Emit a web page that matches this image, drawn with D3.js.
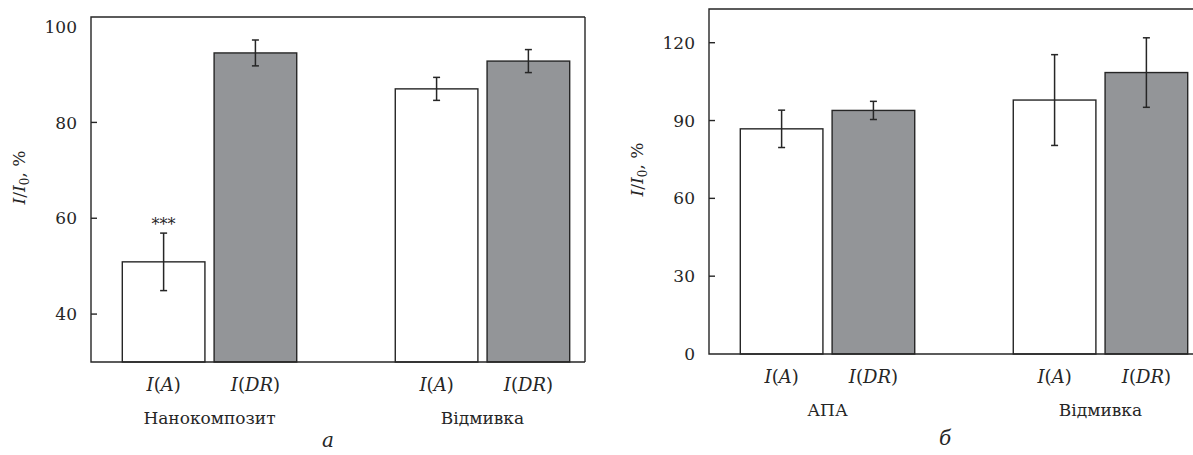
<!DOCTYPE html>
<html>
<head>
<meta charset="utf-8">
<script src="https://cdn.jsdelivr.net/npm/d3@7"></script>
<style>
	body { margin: 0; background: #fff; }
	svg { display: block; }
</style>
</head>
<body>
<svg id="chart" width="1193" height="455"></svg>
<script>
// series (two subplots)
const series = ["I(A)", "I(DR)"];

const groupsA = ["Нанокомпозит", "Відмивка"];
const meansA = [[50.9, 94.5], [87.0, 92.8]];
const errsA = [[6.0, 2.7], [2.4, 2.4]];
const ticksA = [40, 60, 80, 100];
const starsA = [["***", ""], ["", ""]];

const groupsB = ["АПА", "Відмивка"];
const meansB = [[86.8, 93.9], [97.9, 108.5]];
const errsB = [[7.2, 3.5], [17.5, 13.4]];
const ticksB = [0, 30, 60, 90, 120];

const serif = "'DejaVu Serif'";
const svg = d3.select("#chart").style("font-family", serif);
const fillColors = { "I(A)": "#ffffff", "I(DR)": "#939598" };
const ink = "#262626";

const drawPanel = (opts) => {
	const { left, top, width, height, domain, groups, means, errs, ticks, stars, letter } = opts;
	const bottom = top + height;
	const g = svg.append("g");

	const y = d3.scaleLinear().domain(domain).range([bottom, top]);
	const x0 = d3.scaleBand().domain(groups).range([left + 31.3, left + 478.7]).paddingInner(0.361);
	const x1 = d3.scaleBand().domain(series).range([0, x0.bandwidth()]).paddingInner(0.1);

	// bars
	groups.forEach((grp, gi) => {
		series.forEach((s, si) => {
			const bx = x0(grp) + x1(s);
			const v = means[gi][si];
			const e = errs[gi][si];
			g.append("rect")
				.attr("x", bx)
				.attr("y", y(v))
				.attr("width", x1.bandwidth())
				.attr("height", bottom - y(v))
				.attr("fill", fillColors[s])
				.attr("stroke", ink)
				.attr("stroke-width", 1.4);
			const cx = bx + x1.bandwidth() / 2;
			g.append("line")
				.attr("x1", cx).attr("x2", cx)
				.attr("y1", y(v + e)).attr("y2", y(v - e))
				.attr("stroke", ink).attr("stroke-width", 1.5);
			[v + e, v - e].forEach((t) => {
				g.append("line")
					.attr("x1", cx - 3.5).attr("x2", cx + 3.5)
					.attr("y1", y(t)).attr("y2", y(t))
					.attr("stroke", ink).attr("stroke-width", 1.5);
			});
			if (stars && stars[gi][si]) {
				g.append("text")
					.attr("x", cx)
					.attr("y", y(v + e) - 3)
					.attr("text-anchor", "middle")
					.attr("font-size", 16)
					.attr("fill", ink)
					.text(stars[gi][si]);
			}
			// series label under the bar
			const lab = g.append("text")
				.attr("x", cx)
				.attr("y", bottom + 29)
				.attr("text-anchor", "middle")
				.attr("font-size", 18)
				.attr("fill", ink);
			const m = s.match(/^I\((.*)\)$/);
			lab.append("tspan").attr("font-style", "italic").text("I");
			lab.append("tspan").text("(");
			lab.append("tspan").attr("font-style", "italic").text(m[1]);
			lab.append("tspan").text(")");
		});
		g.append("text")
			.attr("x", x0(grp) + x0.bandwidth() / 2)
			.attr("y", bottom + 62)
			.attr("text-anchor", "middle")
			.attr("font-size", 17)
			.attr("fill", ink)
			.text(grp);
	});

	// frame (right side runs off the canvas on panel б)
	g.append("path")
		.attr("d", `M${left + width},${top}H${left}V${bottom}H${left + width}`)
		.attr("fill", "none")
		.attr("stroke", ink)
		.attr("stroke-width", 1.4);
	if (opts.rightEdge) {
		g.append("line")
			.attr("x1", left + width).attr("x2", left + width)
			.attr("y1", top).attr("y2", bottom)
			.attr("stroke", ink).attr("stroke-width", 1.4);
	}

	// y ticks, drawn inward
	ticks.forEach((t) => {
		if (y(t) > top + 12 && y(t) < bottom - 1) {
			g.append("line")
				.attr("x1", left).attr("x2", left + 6)
				.attr("y1", y(t)).attr("y2", y(t))
				.attr("stroke", ink).attr("stroke-width", 1.4);
		}
		g.append("text")
			.attr("x", left - 14)
			.attr("y", y(t))
			.attr("dy", "0.36em")
			.attr("text-anchor", "end")
			.attr("font-size", 17)
			.attr("fill", ink)
			.text(t);
	});

	// y title: I/I0, %
	const yt = g.append("text")
		.attr("transform", `translate(${left - 66},${(top + bottom) / 2 - 12}) rotate(-90)`)
		.attr("text-anchor", "middle")
		.attr("font-size", 17)
		.attr("fill", ink);
	yt.append("tspan").attr("font-style", "italic").text("I");
	yt.append("tspan").text("/");
	yt.append("tspan").attr("font-style", "italic").text("I");
	yt.append("tspan").attr("font-size", 12).attr("dy", 4).text("0");
	yt.append("tspan").attr("dy", -4).text(", %");

	svg.append("text")
		.attr("x", opts.letterX)
		.attr("y", opts.letterY)
		.attr("text-anchor", "middle")
		.attr("font-size", 20)
		.attr("font-style", "italic")
		.attr("fill", ink)
		.text(letter);
};

drawPanel({
	left: 91, top: 17, width: 494, height: 345,
	domain: [30, 102], groups: groupsA, means: meansA, errs: errsA,
	ticks: ticksA, stars: starsA, letter: "а", letterX: 328, letterY: 447, rightEdge: true,
});

drawPanel({
	left: 709, top: 9, width: 494, height: 345,
	domain: [0, 133], groups: groupsB, means: meansB, errs: errsB,
	ticks: ticksB, stars: null, letter: "б", letterX: 945, letterY: 445, rightEdge: false,
});
</script>
</body>
</html>
